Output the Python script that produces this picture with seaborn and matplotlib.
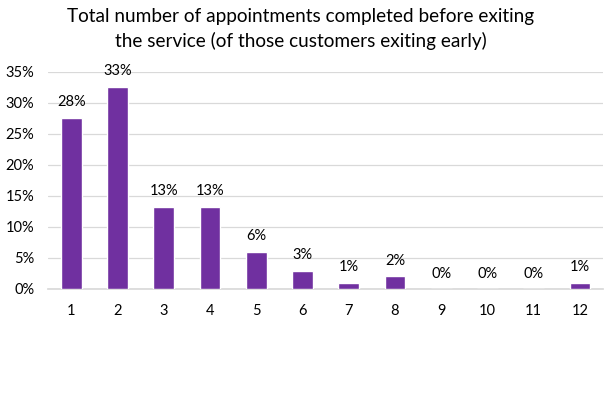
import matplotlib
matplotlib.use("Agg")
import matplotlib.pyplot as plt
import seaborn as sns
import pandas as pd
from matplotlib.ticker import PercentFormatter

# appointments completed before exiting (share of early exits, %)
appointments = ["1", "2", "3", "4", "5", "6", "7", "8", "9", "10", "11", "12"]
share = [27.6, 32.6, 13.25, 13.25, 6.0, 2.95, 1.0, 2.0, 0.0, 0.0, 0.0, 1.0]

df = pd.DataFrame({"appointments": appointments, "share": share})

sns.set_theme(style="white")
plt.rcParams["font.family"] = ["Lato", "DejaVu Sans"]

fig = plt.figure(figsize=(6.08, 3.93), dpi=100)
ax = fig.add_axes([0.079, 0.265, 0.913, 0.552])

sns.barplot(data=df, x="appointments", y="share", order=appointments,
            color="#7030A0", saturation=1, width=0.45, ax=ax, zorder=3)

# data labels above each bar
for i, v in enumerate(share):
    ax.annotate(f"{v:.0f}%", (i, v), xytext=(0, 6), textcoords="offset points",
                ha="center", va="bottom", fontsize=10.5, color="#000000")

ax.set_ylim(0, 35)
ax.set_xlim(-0.5, len(appointments) - 0.5)
ax.set_yticks(range(0, 36, 5))
ax.yaxis.set_major_formatter(PercentFormatter(decimals=0))
ax.grid(axis="y", color="#D9D9D9", linewidth=0.9, zorder=0)
ax.set_xlabel("")
ax.set_ylabel("")
for s in ["top", "right", "left"]:
    ax.spines[s].set_visible(False)
ax.spines["bottom"].set_color("#D9D9D9")
ax.tick_params(axis="both", length=0, labelsize=10.5, colors="#000000")
ax.tick_params(axis="x", pad=11)
ax.tick_params(axis="y", pad=10)

fig.suptitle("Total number of appointments completed before exiting\nthe service (of those customers exiting early)",
             x=0.495, y=0.98, fontsize=13.7, color="#000000", linespacing=1.5)

plt.savefig("out.png", dpi=100)
plt.close()
